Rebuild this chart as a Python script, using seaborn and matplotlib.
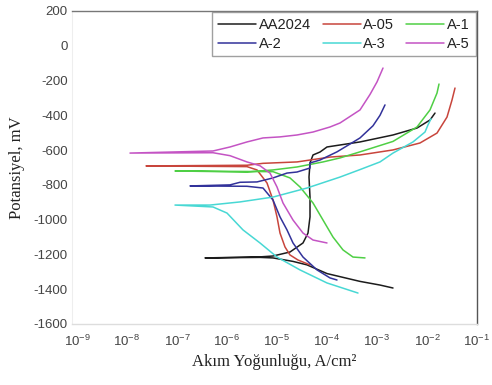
import numpy as np
import pandas as pd
import matplotlib
matplotlib.use("Agg")
import matplotlib.pyplot as plt
import seaborn as sns
from matplotlib.lines import Line2D
from matplotlib.ticker import FixedLocator, NullLocator, LogFormatterMathtext

# ---- data: log10 of current density (A/cm2) and potential (mV) ----
# each curve: cathodic branch (high current -> Ecorr), left end, anodic branch
series_names = ["AA2024", "A-05", "A-1", "A-2", "A-3", "A-5"]

aa2024_logi = [-2.68, -2.94, -3.34, -4.00, -4.40, -4.68, -5.08, -5.34, -6.44,
               -5.34, -5.08, -4.74, -4.48, -4.38, -4.34, -4.34, -4.36, -4.34,
               -4.28, -4.14, -4.00, -3.34, -2.68, -2.20, -1.94, -1.84]
aa2024_e = [-1393, -1376, -1355, -1310, -1260, -1240, -1220, -1217, -1220,
            -1214, -1209, -1186, -1134, -1077, -984, -870, -755, -674,
            -628, -611, -582, -553, -513, -473, -427, -387]

a05_logi = [-4.34, -4.58, -4.74, -4.84, -4.94, -5.00, -5.08, -5.20, -5.40, -5.60,
            -7.62,
            -5.60, -5.28, -4.60, -3.94, -3.34, -2.68, -2.14, -1.80, -1.60, -1.50, -1.44]
a05_e = [-1260, -1232, -1203, -1157, -1077, -984, -887, -789, -714, -695,
         -691,
         -687, -676, -668, -640, -628, -599, -559, -502, -410, -312, -243]

a1_logi = [-3.24, -3.48, -3.68, -3.88, -4.08, -4.28, -4.54, -4.74, -5.08,
           -7.04,
           -5.60, -5.08, -4.60, -4.08, -3.74, -3.34, -2.68, -2.20, -1.94, -1.80, -1.76]
a1_e = [-1220, -1215, -1174, -1100, -1002, -904, -812, -760, -724,
        -720,
        -726, -714, -697, -668, -645, -610, -550, -467, -369, -272, -220]

a2_logi = [-3.80, -3.94, -4.20, -4.48, -4.68, -4.80, -4.94, -5.08, -5.28, -5.60,
           -6.74,
           -5.94, -5.74, -5.40, -5.08, -4.80, -4.60, -4.34, -4.34, -4.14, -3.80,
           -3.54, -3.34, -3.08, -2.94, -2.84]
a2_e = [-1347, -1335, -1289, -1215, -1134, -1059, -984, -887, -818, -808,
        -806,
        -800, -785, -783, -760, -732, -726, -703, -674, -657, -610,
        -565, -530, -460, -400, -340]

a3_logi = [-3.38, -4.00, -4.54, -5.00, -5.34, -5.68, -6.00, -6.28,
           -7.04,
           -6.34, -5.74, -5.08, -4.40, -3.74, -3.34, -2.94, -2.68, -2.28, -2.04,
           -1.98, -1.92]
a3_e = [-1422, -1364, -1289, -1215, -1134, -1059, -962, -927,
        -916,
        -916, -898, -870, -818, -755, -712, -668, -617, -553, -496,
        -455, -420]

a5_logi = [-4.00, -4.28, -4.48, -4.68, -4.88, -5.00, -5.14, -5.34, -5.60, -5.94, -6.28,
           -7.94,
           -6.28, -5.94, -5.60, -5.28, -4.94, -4.60, -4.28, -3.94, -3.74, -3.34,
           -3.14, -3.00, -2.88]
a5_e = [-1134, -1117, -1077, -1002, -904, -812, -732, -690, -668, -632, -615,
        -617,
        -605, -582, -553, -530, -524, -513, -496, -467, -444, -369,
        -280, -208, -128]

x_tick_exp = [-9, -8, -7, -6, -5, -4, -3, -2, -1]
y_ticks = [200, 0, -200, -400, -600, -800, -1000, -1200, -1400, -1600]

colors = {"AA2024": "#1c1c1c", "A-05": "#c8453c", "A-1": "#4fcf45",
          "A-2": "#32329a", "A-3": "#48d8d4", "A-5": "#c454c4"}

logi_all = [aa2024_logi, a05_logi, a1_logi, a2_logi, a3_logi, a5_logi]
e_all = [aa2024_e, a05_e, a1_e, a2_e, a3_e, a5_e]
frames = []
for name, li, ee in zip(series_names, logi_all, e_all):
    frames.append(pd.DataFrame({"i": np.power(10.0, li), "E": ee, "s": name}))
df = pd.concat(frames, ignore_index=True)

sns.set_style("white")
plt.rcParams["font.family"] = ["Liberation Sans", "DejaVu Sans"]
plt.rcParams["mathtext.default"] = "regular"

fig = plt.figure(figsize=(4.92, 3.85), dpi=100)
ax = fig.add_axes([72 / 492, 1 - 324 / 385, (477 - 72) / 492, (324 - 11) / 385])

sns.lineplot(data=df, x="i", y="E", hue="s", palette=colors, sort=False,
             estimator=None, units="s", linewidth=1.1, ax=ax, legend=False)

ax.set_xscale("log")
ax.set_xlim(10 ** -9.1, 10 ** -1)
ax.set_ylim(-1600, 200)
ax.xaxis.set_major_locator(FixedLocator([10.0 ** k for k in x_tick_exp]))
ax.xaxis.set_major_formatter(LogFormatterMathtext())
ax.xaxis.set_minor_locator(NullLocator())
ax.set_yticks(y_ticks)
ax.set_yticklabels([str(v) for v in y_ticks])

tick_col = "#444444"
ax.tick_params(axis="y", direction="in", length=4, width=0.8, color="#999999",
               labelsize=9.5, labelcolor=tick_col, pad=3)
ax.tick_params(axis="x", direction="out", length=4, width=0.8, color="#999999",
               labelsize=9.5, labelcolor=tick_col, pad=3)

ax.spines["top"].set_color("#777777")
ax.spines["top"].set_linewidth(1.0)
ax.spines["right"].set_color("#555555")
ax.spines["right"].set_linewidth(1.0)
ax.spines["bottom"].set_color("#dddddd")
ax.spines["bottom"].set_linewidth(1.0)
ax.spines["left"].set_color("#eeeeee")
ax.spines["left"].set_linewidth(0.8)

ax.set_xlabel("Akım Yoğunluğu, A/cm²", family=["Liberation Serif", "DejaVu Serif"],
              fontsize=12, color="#222222", labelpad=4)
ax.set_ylabel("Potansiyel, mV", family=["Liberation Serif", "DejaVu Serif"],
              fontsize=12, color="#222222", labelpad=6)

legend_order = ["AA2024", "A-2", "A-05", "A-3", "A-1", "A-5"]
handles = [Line2D([], [], color=colors[n], linewidth=1.1) for n in legend_order]
leg = ax.legend(handles, legend_order, loc="upper right", bbox_to_anchor=(1.0, 1.0),
                ncol=3, fontsize=10.5, frameon=True, fancybox=False,
                borderaxespad=0.1, handlelength=2.6, handletextpad=0.2,
                columnspacing=0.8, labelspacing=0.3, borderpad=0.4)
leg.get_frame().set_edgecolor("#888888")
leg.get_frame().set_linewidth(1.0)
for t in leg.get_texts():
    t.set_color("#222222")

fig.savefig("out.png", dpi=100, facecolor="white")
